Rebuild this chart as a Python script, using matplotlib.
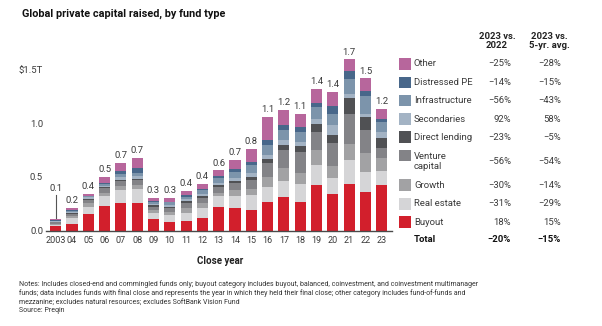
import numpy as np
import matplotlib.pyplot as plt
from matplotlib.patches import Rectangle

plt.rcParams['font.family'] = ['Roboto', 'DejaVu Sans']

years = ['2003', '04', '05', '06', '07', '08', '09', '10', '11', '12', '13',
         '14', '15', '16', '17', '18', '19', '20', '21', '22', '23']
total_labels = ['0.1', '0.2', '0.4', '0.5', '0.7', '0.7', '0.3', '0.3', '0.4', '0.4', '0.6',
                '0.7', '0.8', '1.1', '1.2', '1.1', '1.4', '1.4', '1.7', '1.5', '1.2']

# $T, bottom to top
buyout = [0.040, 0.065, 0.153, 0.230, 0.255, 0.255, 0.106, 0.081, 0.093, 0.115, 0.215,
          0.206, 0.193, 0.270, 0.310, 0.270, 0.424, 0.340, 0.433, 0.358, 0.424]
real_estate = [0.015, 0.050, 0.065, 0.088, 0.125, 0.131, 0.056, 0.065, 0.075, 0.094, 0.103,
               0.112, 0.140, 0.135, 0.154, 0.166, 0.186, 0.155, 0.224, 0.190, 0.128]
growth = [0.010, 0.020, 0.037, 0.032, 0.037, 0.041, 0.031, 0.028, 0.040, 0.047, 0.037,
          0.056, 0.053, 0.095, 0.116, 0.100, 0.140, 0.105, 0.156, 0.172, 0.122]
venture = [0.010, 0.020, 0.032, 0.045, 0.043, 0.046, 0.031, 0.034, 0.053, 0.047, 0.050,
           0.069, 0.087, 0.130, 0.170, 0.194, 0.170, 0.220, 0.280, 0.218, 0.095]
direct_lending = [0.005, 0.010, 0.010, 0.010, 0.013, 0.012, 0.012, 0.016, 0.012, 0.016, 0.016,
                  0.022, 0.031, 0.037, 0.050, 0.060, 0.080, 0.070, 0.141, 0.122, 0.094]
secondaries = [0.005, 0.008, 0.012, 0.012, 0.025, 0.025, 0.012, 0.016, 0.019, 0.022, 0.022,
               0.025, 0.031, 0.040, 0.047, 0.040, 0.040, 0.095, 0.046, 0.030, 0.056]
infrastructure = [0.008, 0.010, 0.010, 0.018, 0.031, 0.025, 0.019, 0.022, 0.025, 0.034, 0.047,
                  0.053, 0.078, 0.093, 0.093, 0.095, 0.115, 0.105, 0.140, 0.170, 0.092]
distressed = [0.004, 0.007, 0.006, 0.007, 0.031, 0.047, 0.006, 0.009, 0.012, 0.012, 0.022,
              0.031, 0.031, 0.047, 0.050, 0.041, 0.041, 0.070, 0.070, 0.040, 0.034]
other = [0.010, 0.020, 0.018, 0.062, 0.075, 0.094, 0.035, 0.037, 0.044, 0.047, 0.050,
         0.087, 0.122, 0.218, 0.140, 0.124, 0.131, 0.136, 0.110, 0.122, 0.093]

legend_names = ['Other', 'Distressed PE', 'Infrastructure', 'Secondaries', 'Direct lending',
                'Venture\ncapital', 'Growth', 'Real estate', 'Buyout']
vs_2022 = ['\u221225%', '\u221214%', '\u221256%', '92%', '\u221223%', '\u221256%', '\u221230%', '\u221231%', '18%']
vs_5yr = ['\u221228%', '\u221215%', '\u221243%', '58%', '\u22125%', '\u221254%', '\u221214%', '\u221229%', '15%']
total_2022 = '\u221220%'
total_5yr = '\u221215%'

colors = ['#d21f2c', '#d5d5d7', '#a2a2a4', '#838387', '#505154',
          '#a3b3c4', '#7c94ab', '#48678a', '#b7669c']
series = [buyout, real_estate, growth, venture, direct_lending,
          secondaries, infrastructure, distressed, other]

W, H = 602, 326
fig = plt.figure(figsize=(W / 100, H / 100), dpi=100)


def fx(x):
    return x / W


def fy(y):
    return 1 - y / H


ax = fig.add_axes([fx(45.9), fy(230.5), 345.6 / W, 1.8 * 107 / H])
x = np.arange(len(years))
bottom = np.zeros(len(years))
for vals, c in zip(series, colors):
    ax.bar(x, vals, 0.68, bottom=bottom, color=c, linewidth=0)
    bottom += np.array(vals)

txt = '#3a3a3a'
for i, lab in enumerate(total_labels):
    if i == 0:
        ax.text(x[i], 0.355, lab, ha='center', va='bottom', fontsize=6.8, color=txt)
        ax.plot([x[i], x[i]], [bottom[i] + 0.01, 0.335], color='#555555', lw=0.8)
    else:
        ax.text(x[i], bottom[i] + 0.025, lab, ha='center', va='bottom', fontsize=6.8, color=txt)

ax.set_xlim(-0.6, 20.6)
ax.set_ylim(0, 1.8)
ax.set_xticks(x)
ax.set_xticklabels(years, fontsize=6.5, color=txt)
ax.set_yticks([0, 0.5, 1.0, 1.5])
ax.set_yticklabels(['0.0', '0.5', '1.0', '$1.5T'], fontsize=6.8, color=txt)
ax.tick_params(length=0)
ax.tick_params(axis='x', pad=4)
ax.tick_params(axis='y', pad=2)
for s in ['top', 'right', 'left']:
    ax.spines[s].set_visible(False)
ax.spines['bottom'].set_color('#4a4a4a')
ax.spines['bottom'].set_linewidth(1.0)

fig.text(fx(22), fy(14), 'Global private capital raised, by fund type', fontsize=7.8,
         fontweight='bold', color='#111111', va='center')
fig.text(fx(220), fy(261), 'Close year', fontsize=7, fontweight='bold', color='#222222',
         ha='center', va='center')

# legend table
fig.text(fx(497), fy(41), '2023 vs.\n2022', fontsize=6.8, fontweight='bold', color='#222222',
         ha='center', va='center', linespacing=1.1)
fig.text(fx(549), fy(41), '2023 vs.\n5-yr. avg.', fontsize=6.8, fontweight='bold', color='#222222',
         ha='center', va='center', linespacing=1.1)
row_y = [64, 82.7, 100.7, 119.3, 137, 161.7, 185.3, 204, 222.3]
leg_colors = colors[::-1]
for name, c, yy, a, b in zip(legend_names, leg_colors, row_y, vs_2022, vs_5yr):
    sq_y = yy if '\n' not in name else 155.7
    fig.add_artist(Rectangle((fx(399), fy(sq_y + 5.5)), 11.5 / W, 11.5 / H,
                             transform=fig.transFigure, color=c, lw=0))
    fig.text(fx(414), fy(yy), name, fontsize=6.8, color=txt, va='center', linespacing=1.2)
    fig.text(fx(511), fy(yy), a, fontsize=6.8, color=txt, va='center', ha='right')
    fig.text(fx(561), fy(yy), b, fontsize=6.8, color=txt, va='center', ha='right')
fig.text(fx(414), fy(240), 'Total', fontsize=6.8, fontweight='bold', color='#111111', va='center')
fig.text(fx(511), fy(240), total_2022, fontsize=6.8, fontweight='bold', color='#111111',
         va='center', ha='right')
fig.text(fx(561), fy(240), total_5yr, fontsize=6.8, fontweight='bold', color='#111111',
         va='center', ha='right')

notes = ('Notes: Includes closed-end and commingled funds only; buyout category includes buyout, '
         'balanced, coinvestment, and coinvestment multimanager\n'
         'funds; data includes funds with final close and represents the year in which they held '
         'their final close; other category includes fund-of-funds and\n'
         'mezzanine; excludes natural resources; excludes SoftBank Vision Fund\n'
         'Source: Preqin')
fig.text(fx(19), fy(280.5), notes, fontsize=5.05, color='#333333', va='top', linespacing=1.22)

fig.savefig('out.png', dpi=100)
